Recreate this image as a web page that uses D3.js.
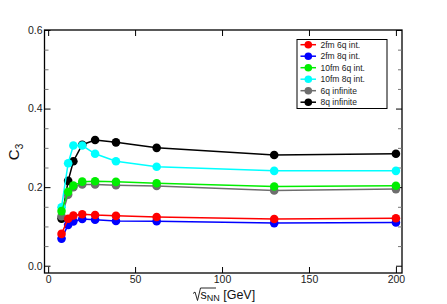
<!DOCTYPE html>
<html><head><meta charset="utf-8">
<script src="https://cdn.jsdelivr.net/npm/d3@7"></script>
<style>body{margin:0;background:#fff}svg{display:block;font-family:"Liberation Sans",Arial,sans-serif}</style>
</head><body><svg id="c" width="447" height="304"></svg>
<script>
const energies = [7.7, 11.5, 14.5, 19.6, 27, 39, 62.4, 130, 200];
const seriesNames = ["2fm 6q int.", "2fm 8q int.", "10fm 6q int.", "10fm 8q int.", "6q infinite", "8q infinite"];
const seriesColors = ["#ff0000", "#0000ff", "#00ee00", "#00ffff", "#6e6e6e", "#000000"];
const red   = [0.081, 0.1195, 0.128, 0.131, 0.129, 0.127, 0.124, 0.119, 0.121];
const blue  = [0.069, 0.104, 0.113, 0.119, 0.117, 0.114, 0.1135, 0.1085, 0.110];
const green = [0.139, 0.188, 0.204, 0.214, 0.215, 0.2135, 0.210, 0.2017, 0.2034];
const cyan  = [0.149, 0.261, 0.306, 0.306, 0.285, 0.266, 0.252, 0.2415, 0.2415];
const gray  = [0.126, 0.181, 0.200, 0.207, 0.207, 0.205, 0.203, 0.1915, 0.195];
const black = [0.120, 0.216, 0.266, 0.308, 0.320, 0.314, 0.300, 0.282, 0.285];
const xTicks = [0, 50, 100, 150, 200];
const yTicks = [0, 0.2, 0.4, 0.6];
const yMinor = [0.05, 0.1, 0.15, 0.25, 0.3, 0.35, 0.45, 0.5, 0.55];

const values = [red, blue, green, cyan, gray, black];
const svg = d3.select("#c");
const L = 44.5, R = 402, T = 30, B = 273;
const x = d3.scaleLinear().domain([-2.1, 203.5]).range([L, R]);
const y = d3.scaleLinear().domain([-0.0185, 0.6]).range([B, T]);

// frame
svg.append("rect").attr("x", L).attr("y", T).attr("width", R - L).attr("height", B - T)
  .attr("fill", "none").attr("stroke", "#000").attr("stroke-width", 1.3);

// axes (inward ticks)
const gB = svg.append("g").attr("transform", `translate(0,${B})`)
  .call(d3.axisBottom(x).tickValues(xTicks).tickSize(-6).tickPadding(3).tickFormat(d3.format("d")));
const gT = svg.append("g").attr("transform", `translate(0,${T})`)
  .call(d3.axisTop(x).tickValues(xTicks).tickSize(-6).tickFormat(""));
const gL = svg.append("g").attr("transform", `translate(${L},0)`)
  .call(d3.axisLeft(y).tickValues(yTicks).tickSize(-6).tickPadding(2).tickFormat(d3.format(".1f")));
const gR = svg.append("g").attr("transform", `translate(${R},0)`)
  .call(d3.axisRight(y).tickValues(yTicks).tickSize(-6).tickFormat(""));
const gLm = svg.append("g").attr("transform", `translate(${L},0)`)
  .call(d3.axisLeft(y).tickValues(yMinor).tickSize(-4).tickFormat(""));
const gRm = svg.append("g").attr("transform", `translate(${R},0)`)
  .call(d3.axisRight(y).tickValues(yMinor).tickSize(-4).tickFormat(""));
[gB, gT, gL, gR, gLm, gRm].forEach(g => {
  g.select(".domain").remove();
  g.selectAll("line").attr("stroke", "#000").attr("stroke-width", 1);
  g.selectAll("text").attr("font-size", 10.5).attr("fill", "#222")
    .attr("font-family", "'Liberation Sans',Arial,sans-serif");
});
gLm.selectAll("line").attr("stroke", "#777");
gRm.selectAll("line").attr("stroke", "#777");

// series, drawn in reverse order so earlier series are on top
const line = d3.line().x((d, i) => x(energies[i])).y(d => y(d));
for (let s = values.length - 1; s >= 0; s--) {
  const g = svg.append("g");
  g.append("path").datum(values[s]).attr("d", line).attr("fill", "none")
    .attr("stroke", seriesColors[s]).attr("stroke-width", 1.5);
  g.selectAll("circle").data(values[s]).join("circle")
    .attr("cx", (d, i) => x(energies[i])).attr("cy", d => y(d)).attr("r", 4.3)
    .attr("fill", seriesColors[s]);
}

// legend
const lg = svg.append("g");
lg.append("rect").attr("x", 297).attr("y", 39.5).attr("width", 90).attr("height", 69)
  .attr("fill", "#fff").attr("stroke", "#000").attr("stroke-width", 1);
seriesNames.forEach((n, i) => {
  const yy = 44.7 + i * 11.5;
  lg.append("line").attr("x1", 300.5).attr("x2", 316).attr("y1", yy).attr("y2", yy)
    .attr("stroke", seriesColors[i]).attr("stroke-width", 1.5);
  lg.append("circle").attr("cx", 308.3).attr("cy", yy).attr("r", 3.8).attr("fill", seriesColors[i]);
  lg.append("text").attr("x", 320.5).attr("y", yy + 3).attr("font-size", 8.5).attr("fill", "#222").text(n);
});

// y label
const yl = svg.append("text").attr("transform", "translate(19,152) rotate(-90)")
  .attr("text-anchor", "middle").attr("font-size", 15).attr("fill", "#111");
yl.append("tspan").text("C");
yl.append("tspan").attr("font-size", 10).attr("dy", 4).text("3");

// x label
const xl = svg.append("g");
xl.append("path").attr("d", "M193,293.5 L195,292 L197.5,300.5 L200.5,288 L216,288")
  .attr("fill", "none").attr("stroke", "#111").attr("stroke-width", 0.9);
const xt = xl.append("text").attr("x", 200.5).attr("y", 298.5).attr("font-size", 12.5).attr("fill", "#111");
xt.append("tspan").text("s");
xt.append("tspan").attr("font-size", 9).attr("dy", 2.5).text("NN");
xt.append("tspan").attr("dy", -2.5).text(" [GeV]");
</script></body></html>
